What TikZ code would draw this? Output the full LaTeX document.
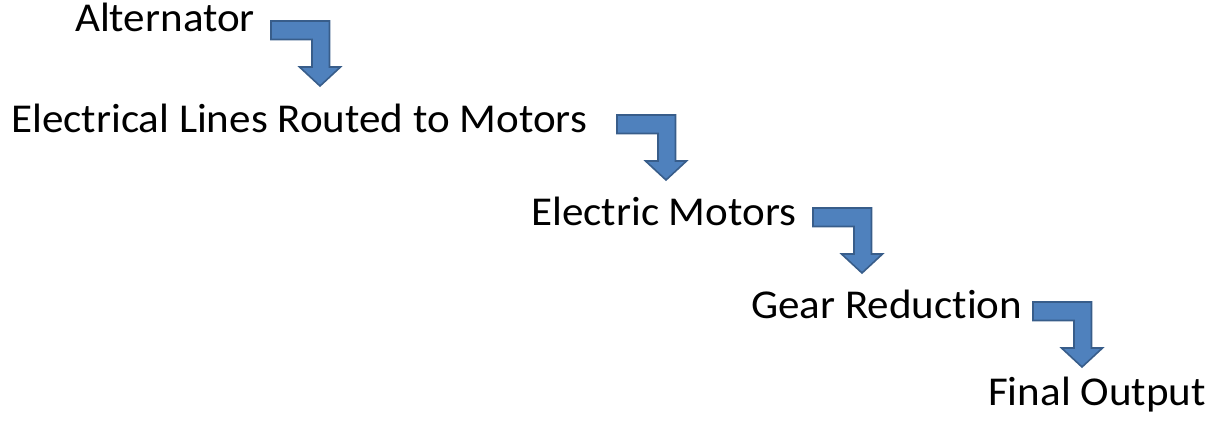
\documentclass[tikz,border=0pt]{standalone}
\usepackage{fontspec}
\setmainfont{Carlito}[Ligatures=NoCommon, FakeStretch=1.05]
\definecolor{arrowfill}{HTML}{4F81BD}
\definecolor{arrowline}{HTML}{385D8A}
\tikzset{
  lbl/.style={anchor=base west, inner sep=0pt, font=\fontsize{41}{48}\selectfont, text=black},
  elbow/.style={fill=arrowfill, draw=arrowline, line width=1.6pt, line join=miter},
}
% elbow arrow with top-left at coordinate #1
\newcommand{\elbowarrow}[1]{%
  \draw[elbow] (#1) -- ++(58.5,0) -- ++(0,46) -- ++(11,0) -- ++(-20.5,19) -- ++(-20.5,-19)
     -- ++(12.5,0) -- ++(0,-27.5) -- ++(-41,0) -- cycle;}
\begin{document}
\begin{tikzpicture}[x=1pt,y=-1pt]
\useasboundingbox (0,0) rectangle (1225,421);
\node[lbl] (alt) at (75,31) {Alternator};
\node[lbl] (lines) at (11,132) {Electrical Lines Routed to Motors};
\node[lbl] (motors) at (531,225) {Electric Motors};
\node[lbl] (gear) at (751,318) {Gear Reduction};
\node[lbl] (final) at (988,405) {Final Output};
\coordinate (a1) at (271,21);
\coordinate (a2) at (617,115);
\coordinate (a3) at (813,208);
\coordinate (a4) at (1033,302);
\elbowarrow{a1}
\elbowarrow{a2}
\elbowarrow{a3}
\elbowarrow{a4}
\end{tikzpicture}
\end{document}
